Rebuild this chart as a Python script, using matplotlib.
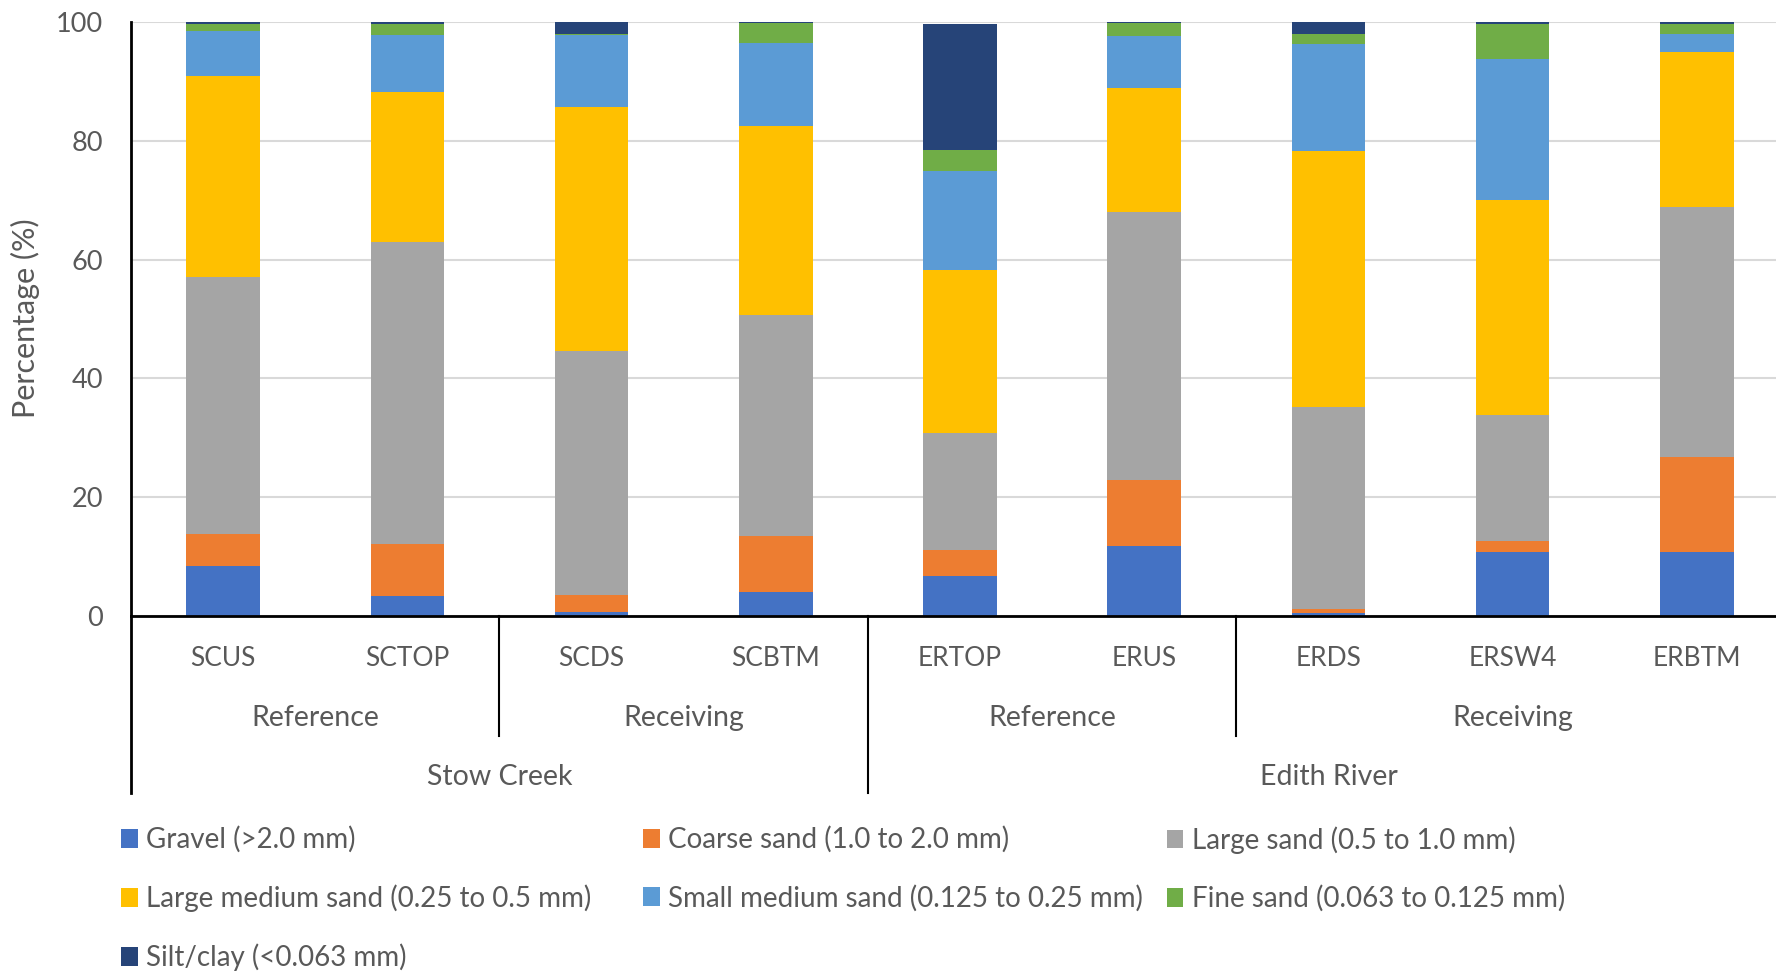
import matplotlib
matplotlib.use("Agg")
import matplotlib.pyplot as plt
import matplotlib.transforms as mtransforms
from matplotlib.patches import Patch
import numpy as np

plt.rcParams['font.family'] = ['Lato', 'DejaVu Sans']

# Sample sites, grouped by site type and river
samples = ['SCUS', 'SCTOP', 'SCDS', 'SCBTM', 'ERTOP', 'ERUS', 'ERDS', 'ERSW4', 'ERBTM']
site_types = ['Reference', 'Receiving', 'Reference', 'Receiving']
site_type_spans = [(0, 1), (2, 3), (4, 5), (6, 8)]
rivers = ['Stow Creek', 'Edith River']
river_spans = [(0, 3), (4, 8)]

# Grain size fractions (%)
gravel = [8.3, 3.3, 0.6, 3.9, 6.6, 11.8, 0.4, 10.7, 10.7]
coarse_sand = [5.5, 8.7, 2.9, 9.5, 4.4, 11.1, 0.7, 1.9, 16.0]
large_sand = [43.2, 51.0, 41.1, 37.2, 19.8, 45.1, 34.1, 21.2, 42.1]
large_medium_sand = [33.9, 25.2, 41.1, 31.9, 27.4, 20.9, 43.1, 36.2, 26.2]
small_medium_sand = [7.7, 9.6, 12.1, 14.1, 16.7, 8.8, 18.1, 23.9, 3.1]
fine_sand = [1.1, 1.9, 0.3, 3.3, 3.6, 2.2, 1.7, 5.8, 1.6]
silt_clay = [0.3, 0.3, 1.9, 0.1, 21.2, 0.1, 1.9, 0.3, 0.3]

series = [
    ('Gravel (>2.0 mm)', gravel, '#4472C4'),
    ('Coarse sand (1.0 to 2.0 mm)', coarse_sand, '#ED7D31'),
    ('Large sand (0.5 to 1.0 mm)', large_sand, '#A5A5A5'),
    ('Large medium sand (0.25 to 0.5 mm)', large_medium_sand, '#FFC000'),
    ('Small medium sand (0.125 to 0.25 mm)', small_medium_sand, '#5B9BD5'),
    ('Fine sand (0.063 to 0.125 mm)', fine_sand, '#70AD47'),
    ('Silt/clay (<0.063 mm)', silt_clay, '#264478'),
]

text_color = '#595959'

fig = plt.figure(figsize=(17.76, 9.71), dpi=100)
ax = fig.add_axes([0.0738, 0.3661, 0.9335, 0.6108])

x = np.arange(len(samples))
bottom = np.zeros(len(samples))
handles = []
for label, vals, color in series:
    vals = np.array(vals)
    ax.bar(x, vals, width=0.4, bottom=bottom, color=color, zorder=3)
    bottom += vals
    handles.append(Patch(facecolor=color, label=label))

ax.set_xlim(-0.5, 8.5)
ax.set_ylim(0, 100)
ax.set_yticks(range(0, 101, 20))
ax.set_xticks([])
ax.tick_params(axis='y', length=0, pad=20, labelsize=19.5, labelcolor=text_color)
ax.yaxis.grid(True, color='#D9D9D9', linewidth=1.5, zorder=0)
for side in ['top', 'right']:
    ax.spines[side].set_visible(False)
for side in ['left', 'bottom']:
    ax.spines[side].set_color('black')
    ax.spines[side].set_linewidth(2)
    ax.spines[side].set_zorder(4)

fig.text(0.0145, 0.672, 'Percentage (%)', rotation=90, ha='center', va='center',
         fontsize=22, color=text_color)

# Multi-level category axis below the bars
trans = mtransforms.blended_transform_factory(ax.transData, ax.transAxes)
for i, s in enumerate(samples):
    ax.text(i, -0.073, s, transform=trans, ha='center', va='center',
            fontsize=19, color=text_color)
for name, (a, b) in zip(site_types, site_type_spans):
    ax.text((a + b) / 2, -0.172, name, transform=trans, ha='center', va='center',
            fontsize=20.5, color=text_color)
for name, (a, b) in zip(rivers, river_spans):
    ax.text((a + b) / 2, -0.273, name, transform=trans, ha='center', va='center',
            fontsize=20.5, color=text_color)

for xb, depth, lw in [(-0.5, -0.299, 2), (1.5, -0.203, 1.5), (3.5, -0.299, 1.5), (5.5, -0.203, 1.5)]:
    ax.plot([xb, xb], [0, depth], transform=trans, color='black', lw=lw,
            clip_on=False, zorder=5)

# Legend laid out row by row in three columns
columns = [[0, 3, 6], [1, 4], [2, 5]]
col_x = [0.0681, 0.362, 0.657]
for cx, idx in zip(col_x, columns):
    leg = fig.legend(handles=[handles[i] for i in idx], loc='upper left',
                     bbox_to_anchor=(cx, 0.149), frameon=False, fontsize=20,
                     handlelength=0.6, handleheight=0.65, handletextpad=0.3,
                     labelspacing=1.13, borderaxespad=0, borderpad=0)
    for t in leg.get_texts():
        t.set_color(text_color)

fig.savefig('out.png', dpi=100)
